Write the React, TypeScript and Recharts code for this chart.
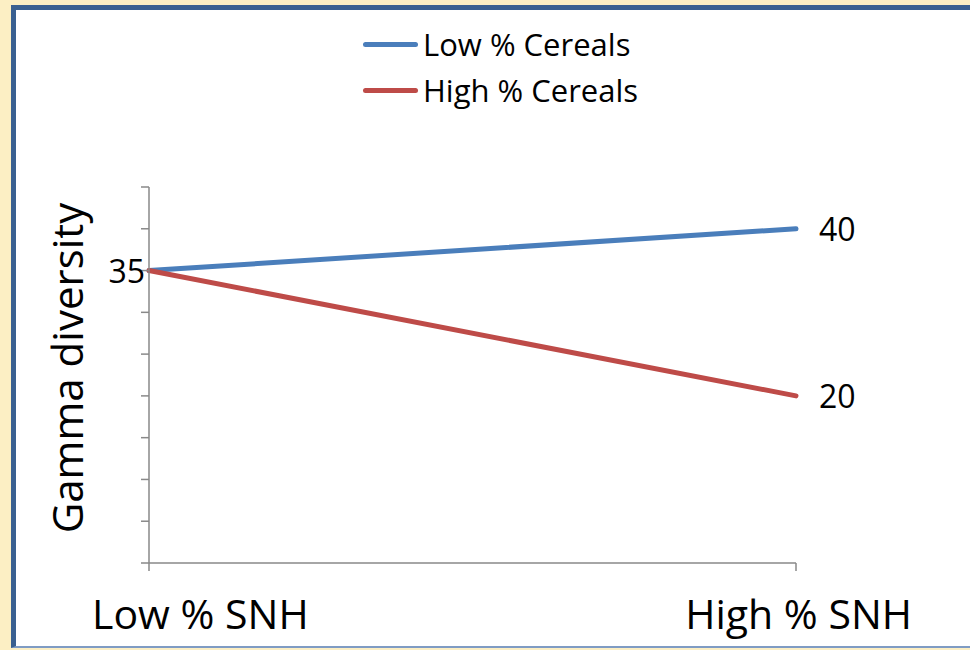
import React from "react"
import { LineChart, Line, XAxis, YAxis, Legend, LabelList } from "recharts"

const categories = ["Low % SNH", "High % SNH"]
const lowCereals = [35, 40]
const highCereals = [35, 20]
const yTicks = [0, 5, 10, 15, 20, 25, 30, 35, 40, 45]
const seriesNames = ["Low % Cereals", "High % Cereals"]

const FONT = '"Open Sans", "Liberation Sans", sans-serif'
const BLUE = "#4A7EBB"
const RED = "#BE4B48"
const AXIS = "#898989"

const data = categories.map((category, i) => ({
  category,
  low: lowCereals[i],
  high: highCereals[i],
}))

function CategoryTick(props: any) {
  const { x, y, payload, index } = props
  const first = index === 0
  return (
    <text
      x={first ? x - 57 : x + 116}
      y={y + 56}
      textAnchor={first ? "start" : "end"}
      fontSize={41}
      fontFamily={FONT}
      fill="#000"
    >
      {payload.value}
    </text>
  )
}

function valueLabel(showFirst: boolean) {
  return (props: any) => {
    const { x, y, value, index } = props
    if (index === 0 && !showFirst) return null
    const left = index === 0
    return (
      <text
        x={left ? x - 4 : x + 23}
        y={y + 12}
        textAnchor={left ? "end" : "start"}
        fontSize={32}
        fontFamily={FONT}
        fill="#000"
      >
        {value}
      </text>
    )
  }
}

function LegendBox(props: any) {
  const { payload = [] } = props
  const ordered = [...payload].sort(
    (a: any, b: any) => seriesNames.indexOf(a.value) - seriesNames.indexOf(b.value)
  )
  return (
    <div style={{ height: 165, fontFamily: FONT }}>
      {ordered.map((entry: any) => (
        <div key={entry.value} style={{ height: 46, display: "flex", alignItems: "center" }}>
          <span
            style={{
              display: "inline-block",
              width: 55,
              height: 5,
              borderRadius: 3,
              background: entry.color,
            }}
          />
          <span style={{ marginLeft: 5, fontSize: 31, color: "#000", lineHeight: "46px" }}>
            {entry.value}
          </span>
        </div>
      ))}
    </div>
  )
}

function YTitle(props: any) {
  const { viewBox } = props
  const cy = viewBox.y + viewBox.height / 2 - 7
  const x = 83
  return (
    <text
      x={x}
      y={cy}
      transform={`rotate(-90, ${x}, ${cy})`}
      textAnchor="middle"
      fontSize={42}
      fontFamily={FONT}
      fill="#000"
    >
      Gamma diversity
    </text>
  )
}

export default function App() {
  return (
    <div
      style={{
        position: "absolute",
        left: 0,
        top: 0,
        width: 970,
        height: 650,
        overflow: "hidden",
        background: "#FCEFC4",
      }}
    >
      <div
        style={{
          position: "absolute",
          left: 11,
          top: 5,
          width: 980,
          height: 643,
          background: "#fff",
          borderLeft: "5px solid #3A6090",
          borderTop: "5px solid #3A6090",
          borderBottom: "2px solid #7F9CC4",
          boxSizing: "border-box",
        }}
      />
      <div style={{ position: "absolute", left: 0, top: 0 }}>
        <LineChart
          width={970}
          height={650}
          data={data}
          margin={{ top: 22, right: 174, bottom: 0, left: 0 }}
        >
          <XAxis
            dataKey="category"
            scale="point"
            padding={{ left: 0, right: 0 }}
            interval={0}
            height={87}
            tickSize={8}
            axisLine={{ stroke: AXIS, strokeWidth: 1.5 }}
            tickLine={{ stroke: AXIS, strokeWidth: 1.5 }}
            tick={<CategoryTick />}
          />
          <YAxis
            domain={[0, 45]}
            ticks={yTicks}
            width={149}
            tickSize={8}
            axisLine={{ stroke: AXIS, strokeWidth: 1.5 }}
            tickLine={{ stroke: AXIS, strokeWidth: 1.5 }}
            tickFormatter={() => ""}
            label={<YTitle />}
          />
          <Legend
            verticalAlign="top"
            align="center"
            layout="vertical"
            content={<LegendBox />}
            wrapperStyle={{ left: 363, top: 21, width: 320 }}
          />
          <Line
            type="linear"
            dataKey="low"
            name={seriesNames[0]}
            stroke={BLUE}
            strokeWidth={5}
            strokeLinecap="round"
            dot={false}
            activeDot={false}
            isAnimationActive={false}
          >
            <LabelList dataKey="low" content={valueLabel(true)} />
          </Line>
          <Line
            type="linear"
            dataKey="high"
            name={seriesNames[1]}
            stroke={RED}
            strokeWidth={5}
            strokeLinecap="round"
            dot={false}
            activeDot={false}
            isAnimationActive={false}
          >
            <LabelList dataKey="high" content={valueLabel(false)} />
          </Line>
        </LineChart>
      </div>
    </div>
  )
}
